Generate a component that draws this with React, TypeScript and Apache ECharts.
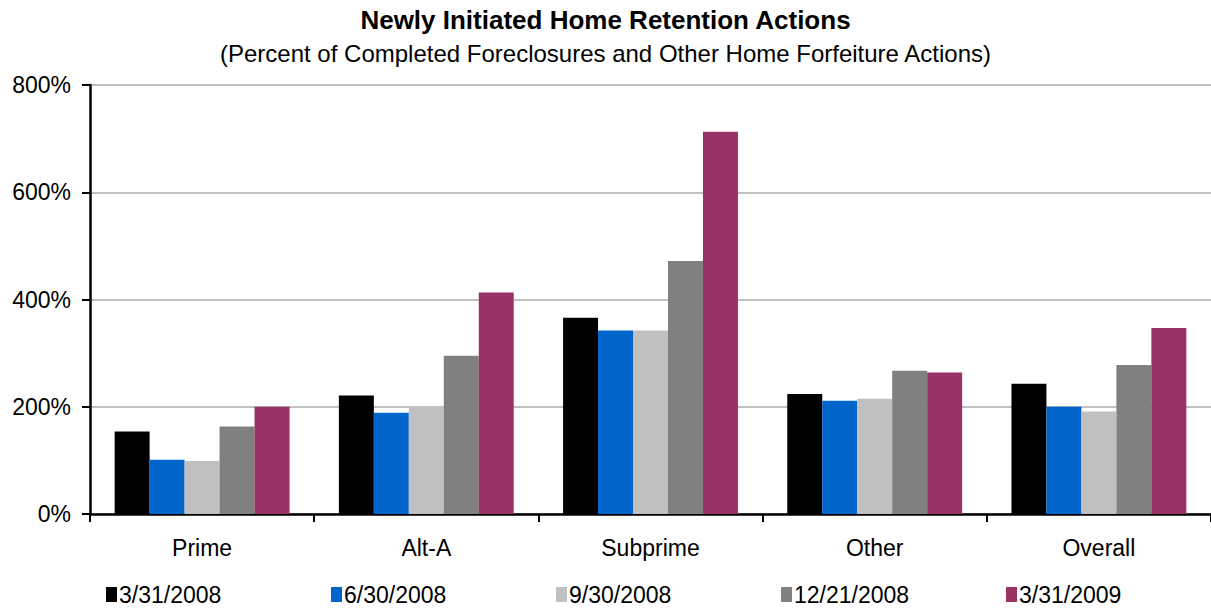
import React, { useEffect, useRef } from "react";
import * as echarts from "echarts";

const categories = ["Prime", "Alt-A", "Subprime", "Other", "Overall"];
const seriesNames = ["3/31/2008", "6/30/2008", "9/30/2008", "12/21/2008", "3/31/2009"];
const s2008q1 = [154, 221, 366, 224, 243];
const s2008q2 = [101, 189, 342, 211, 200];
const s2008q3 = [99, 199, 342, 215, 191];
const s2008q4 = [163, 295, 472, 267, 278];
const s2009q1 = [200, 413, 713, 264, 347];
const yTicks = [0, 200, 400, 600, 800];
const colors = ["#000000", "#0066CC", "#C0C0C0", "#808080", "#993366"];

export default function App() {
  const ref = useRef<HTMLDivElement>(null);
  useEffect(() => {
    if (!ref.current) return;
    const chart = echarts.init(ref.current, null, { renderer: "svg" });
    const values = [s2008q1, s2008q2, s2008q3, s2008q4, s2009q1];
    const legendX = [106, 331, 556, 781, 1006];
    const font = "Arial, Liberation Sans, sans-serif";
    chart.setOption({
      animation: false,
      backgroundColor: "#ffffff",
      title: [
        {
          text: "Newly Initiated Home Retention Actions",
          left: "center",
          top: 1,
          textStyle: { fontFamily: font, fontWeight: "bold", fontSize: 26, lineHeight: 28, color: "#000" },
        },
        {
          text: "(Percent of Completed Foreclosures and Other Home Forfeiture Actions)",
          left: "center",
          top: 35,
          textStyle: { fontFamily: font, fontWeight: "normal", fontSize: 24, lineHeight: 26, color: "#000" },
        },
      ],
      legend: seriesNames.map((n, i) => ({
        data: [n],
        left: legendX[i],
        top: 583,
        padding: 0,
        itemWidth: 11,
        itemHeight: 15,
        icon: "rect",
        textStyle: {
          fontFamily: "Liberation Sans Narrow, Arial Narrow, sans-serif",
          fontSize: 23,
          lineHeight: 23,
          color: "#000",
          padding: [0, 0, 0, -3],
        },
      })),
      grid: { left: 90, top: 85, width: 1125, height: 429, containLabel: false },
      xAxis: {
        type: "category",
        data: categories,
        axisLine: { lineStyle: { color: "#000", width: 2.5 } },
        axisTick: { show: true, length: 8, lineStyle: { color: "#000", width: 2 } },
        axisLabel: { fontFamily: font, fontSize: 23, color: "#000", margin: 22 },
      },
      yAxis: {
        type: "value",
        min: yTicks[0],
        max: yTicks[yTicks.length - 1],
        interval: 200,
        axisLine: { show: true, lineStyle: { color: "#000", width: 2.5 } },
        axisTick: { show: true, length: 8, lineStyle: { color: "#000", width: 2 } },
        axisLabel: { formatter: "{value}%", fontFamily: font, fontSize: 23, color: "#000", margin: 19 },
        splitLine: { show: true, lineStyle: { color: "#C0C0C0", width: 2 } },
      },
      series: seriesNames.map((n, i) => ({
        name: n,
        type: "bar",
        data: values[i],
        barGap: "0%",
        barCategoryGap: "22%",
        itemStyle: { color: colors[i] },
      })),
    });
    return () => chart.dispose();
  }, []);
  return (
    <div
      ref={ref}
      style={{ position: "fixed", left: 0, top: 0, width: 1211, height: 608, background: "#fff" }}
    />
  );
}
